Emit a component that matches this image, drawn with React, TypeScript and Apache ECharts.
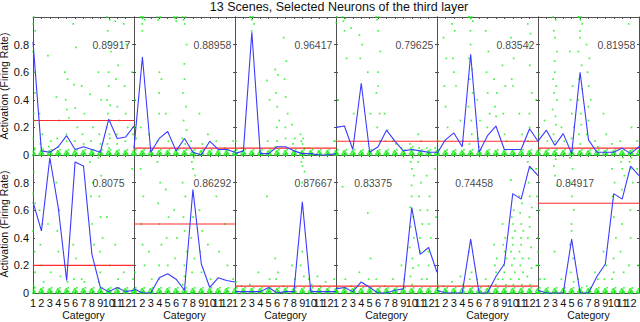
import React, { useEffect, useRef } from 'react';
import * as echarts from 'echarts';

const TITLE = '13 Scenes, Selected Neurons of the third layer';
const Y_NAME = 'Activation (Firing Rate)';
const X_NAME = 'Category';
const CATEGORIES = [1, 2, 3, 4, 5, 6, 7, 8, 9, 10, 11, 12, 13];

// score printed in each panel (top row left->right, then bottom row)
const SCORES = ['0.89917', '0.88958', '0.96417', '0.79625', '0.83542', '0.81958',
  '0.8075', '0.86292', '0.87667', '0.83375', '0.74458', '0.84917'];
// where the score text starts (category units) and its height (activation units)
const SCORE_X = [8, 8, 8, 8, 8, 8, 8, 8, 8, 3.1, 3.1, 3.1];
const SCORE_Y = 0.8;

// mean activation per category (blue line)
const T1_LINE = [0.82, 0.03, 0.02, 0.06, 0.14, 0.04, 0.06, 0.04, 0.02, 0.26, 0.12, 0.13, 0.21];
const T2_LINE = [0.05, 0.71, 0.02, 0.12, 0.17, 0.03, 0.12, 0.02, 0.0, 0.10, 0.04, 0.04, 0.02];
const T3_LINE = [0.01, 0.03, 0.89, 0.01, 0.01, 0.06, 0.06, 0.03, 0.01, 0.01, 0.0, 0.0, 0.01];
const T4_LINE = [0.20, 0.21, 0.04, 0.52, 0.02, 0.06, 0.18, 0.10, 0.03, 0.04, 0.03, 0.02, 0.02];
const T5_LINE = [0.01, 0.11, 0.16, 0.06, 0.73, 0.02, 0.14, 0.21, 0.04, 0.04, 0.04, 0.19, 0.10];
const T6_LINE = [0.10, 0.18, 0.07, 0.155, 0.01, 0.60, 0.11, 0.02, 0.02, 0.02, 0.05, 0.01, 0.06];
const B1_LINE = [0.66, 0.45, 0.98, 0.62, 0.09, 0.95, 0.92, 0.28, 0.04, 0.01, 0.04, 0.01, 0.02];
const B2_LINE = [0.03, 0.0, 0.0, 0.11, 0.14, 0.10, 0.02, 0.75, 0.21, 0.04, 0.11, 0.09, 0.08];
const B3_LINE = [0.01, 0.01, 0.01, 0.01, 0.04, 0.0, 0.01, 0.01, 0.66, 0.01, 0.01, 0.01, 0.01];
const B4_LINE = [0.03, 0.04, 0.01, 0.08, 0.04, 0.0, 0.0, 0.02, 0.03, 0.62, 0.28, 0.33, 0.15];
const B5_LINE = [0.02, 0.0, 0.0, 0.0, 0.39, 0.0, 0.0, 0.12, 0.21, 0.72, 0.68, 0.92, 0.85];
const B6_LINE = [0.02, 0.0, 0.0, 0.0, 0.39, 0.0, 0.0, 0.12, 0.21, 0.72, 0.68, 0.92, 0.85];

// threshold (red line)
const THRESHOLDS = [0.25, 0.05, 0.05, 0.1, 0.1, 0.05, 0.2, 0.5, 0.05, 0.05, 0.05, 0.65];

// many single trials sit at (almost) zero in every category
const ZERO_TRIALS = [0, 0, 0, 0.004, 0.008, 0.008, 0.012, 0.016, 0.02, 0.025, 0.03, 0.038];

// single-trial activations per category (green dots), above the zero pile
const T1_DOTS = [
  [1, 1, 0.98, 0.95, 0.9, 0.85, 0.75, 0.68, 0.6, 0.55, 0.45, 0.38, 0.3, 0.25, 0.18, 0.12, 0.08, 0.05],
  [0.3, 0.15, 0.08, 0.05], [0.72, 0.1, 0.06], [0.42, 0.25, 0.12, 0.06],
  [0.6, 0.55, 0.4, 0.33, 0.27, 0.15, 0.1], [0.95, 0.78, 0.51, 0.34, 0.2, 0.1],
  [0.5, 0.3, 0.15, 0.08], [0.44, 0.2, 0.1], [0.6, 0.4, 0.15, 0.08],
  [1, 0.98, 0.9, 0.82, 0.75, 0.6, 0.5, 0.4, 0.36, 0.3, 0.25, 0.2, 0.15, 0.12, 0.08, 0.05],
  [0.97, 0.65, 0.55, 0.35, 0.25, 0.15, 0.08], [0.95, 0.8, 0.5, 0.3, 0.2, 0.1], [0.6, 0.3, 0.15, 0.1],
];
const T2_DOTS = [
  [0.7, 0.4, 0.3, 0.2, 0.12, 0.08, 0.05], [1, 1, 1, 0.99, 0.98, 0.95, 0.9, 0.2], [0.15],
  [1, 1, 0.98, 0.6, 0.55, 0.45, 0.3, 0.1], [0.3, 0.1], [1, 1, 0.99, 0.97],
  [1, 1, 0.98, 0.95, 0.8, 0.66, 0.55, 0.45, 0.35, 0.25, 0.18, 0.12, 0.08],
  [0.1], [0.3, 0.08], [0.15], [0.1], [0.05], [0.1],
];
const T3_DOTS = [
  [0.3, 0.1], [0.05], [1, 1, 1, 0.98, 0.95, 0.9], [], [0.54, 0.4, 0.1],
  [0.62, 0.58, 0.45, 0.35, 0.25, 0.2, 0.1, 0.06], [0.85, 0.68, 0.55, 0.42, 0.3, 0.2, 0.12],
  [0.22, 0.12, 0.08], [0.15, 0.12, 0.1, 0.08, 0.05], [0.05], [], [], [0.1, 0.05],
];
const T4_DOTS = [
  [1, 1, 0.98, 0.96, 0.4, 0.2, 0.1], [1, 0.99, 0.97, 0.9, 0.7], [0.92, 0.3], [0.87, 0.8, 0.7],
  [0.6, 0.3], [1, 1, 0.98, 0.9, 0.75, 0.6, 0.5, 0.45, 0.3, 0.2, 0.1], [0.3, 0.18, 0.1],
  [0.1, 0.08], [0.05], [0.08, 0.06, 0.05, 0.04], [0.15, 0.1, 0.05], [0.05], [0.05],
];
const T5_DOTS = [
  [0.2, 0.1], [0.85, 0.7, 0.5, 0.35, 0.2, 0.1], [0.95, 0.9, 0.7, 0.6, 0.5], [0.25, 0.1],
  [1, 1, 1, 0.99, 0.97, 0.9, 0.8, 0.7, 0.62, 0.55, 0.45, 0.35, 0.25, 0.15, 0.08],
  [0.4, 0.25, 0.12, 0.06], [0.9, 0.75, 0.6, 0.45, 0.3, 0.2], [0.55, 0.45, 0.35, 0.28],
  [0.65, 0.5, 0.3, 0.15, 0.1], [0.85, 0.7, 0.55, 0.5], [0.3, 0.15],
  [0.95, 0.88, 0.8, 0.65, 0.45, 0.3, 0.2, 0.1], [0.4, 0.1],
];
const T6_DOTS = [
  [0.3, 0.15, 0.08], [0.25, 0.1],
  [1, 0.98, 0.9, 0.85, 0.75, 0.68, 0.6, 0.55, 0.5, 0.45, 0.4, 0.33, 0.28, 0.22, 0.15, 0.1],
  [0.2, 0.1], [0.75, 0.5, 0.4, 0.3, 0.2, 0.12],
  [1, 1, 1, 0.98, 0.95, 0.9, 0.85, 0.75, 0.65, 0.55, 0.48, 0.4, 0.3, 0.22, 0.15, 0.08],
  [0.8, 0.7, 0.6, 0.5, 0.4, 0.35, 0.25, 0.15], [0.1, 0.06], [0.3, 0.15], [0.08], [0.1],
  [0.95, 0.2], [0.1],
];
const B1_DOTS = [
  [0.95, 0.88, 0.8, 0.72, 0.65, 0.55, 0.45, 0.38, 0.3, 0.22, 0.15, 0.08, 0.05],
  [0.6, 0.5, 0.35, 0.2, 0.08], [0.5, 0.15], [0.8, 0.6, 0.45, 0.3, 0.12], [0.2, 0.08],
  [0.35, 0.25, 0.1], [0.1, 0.08], [0.95, 0.8, 0.7, 0.5, 0.35],
  [0.98, 0.85, 0.7, 0.55, 0.4, 0.3, 0.15, 0.08], [0.55, 0.2], [0.35, 0.1], [0.15], [0.9, 0.3, 0.1],
];
const B2_DOTS = [
  [0.4, 0.15, 0.08], [0.9, 0.7, 0.5, 0.35, 0.2], [0.3, 0.1], [0.95, 0.8, 0.65, 0.5, 0.35, 0.2, 0.1],
  [0.75, 0.55, 0.4, 0.2], [0.6, 0.4, 0.25], [0.8, 0.7, 0.55, 0.45, 0.3, 0.2, 0.12, 0.06],
  [1, 0.98, 0.95, 0.9, 0.85, 0.7, 0.55, 0.4, 0.25, 0.15], [0.6, 0.45, 0.3, 0.15],
  [0.35, 0.1], [0.7, 0.3], [0.5, 0.2], [0.1],
];
const B3_DOTS = [
  [0.12, 0.08], [0.05], [0.06], [0.15], [0.7, 0.1], [0.25, 0.15, 0.1], [0.05], [0.2, 0.1],
  [1, 0.98, 0.95, 0.92, 0.88, 0.8, 0.3, 0.2, 0.12], [0.1, 0.06], [0.12, 0.05], [0.08], [0.1],
];
const B4_DOTS = [
  [0.1], [0.77, 0.1], [0.05], [0.15], [0.58, 0.25, 0.1], [0.1], [0.05], [0.1], [0.2, 0.1],
  [1, 0.98, 0.95, 0.9, 0.85, 0.78, 0.7, 0.62, 0.55, 0.48, 0.4, 0.33, 0.25, 0.18, 0.12, 0.06],
  [0.95, 0.8, 0.7, 0.6, 0.5, 0.4, 0.3, 0.2, 0.1], [0.85, 0.7, 0.6, 0.5, 0.4, 0.3, 0.2, 0.1],
  [0.9, 0.75, 0.55, 0.35, 0.2],
];
const B5_DOTS = [
  [0.1, 0.06], [0.05], [0.08], [0.12, 0.06], [0.3, 0.15, 0.1], [0.1], [0.1, 0.05],
  [0.35, 0.25, 0.2, 0.15, 0.1, 0.06], [0.5, 0.4, 0.35, 0.3, 0.25, 0.2, 0.15, 0.1, 0.06],
  [0.82, 0.6, 0.55, 0.5, 0.45, 0.4, 0.35, 0.3, 0.25, 0.2, 0.15, 0.1, 0.06],
  [0.7, 0.65, 0.58, 0.5, 0.45, 0.4, 0.35, 0.3, 0.25, 0.2, 0.15, 0.1, 0.06],
  [0.95, 0.9, 0.8, 0.7, 0.62, 0.55, 0.48, 0.4, 0.33, 0.25, 0.18, 0.12, 0.06],
  [0.9, 0.8, 0.7, 0.6, 0.5, 0.4, 0.3, 0.2, 0.1],
];
const B6_DOTS = [
  [0.9, 0.6, 0.4, 0.2, 0.1], [0.1], [1, 0.97, 0.92, 0.85, 0.78, 0.3], [0.1],
  [0.98, 0.9, 0.8, 0.7, 0.6, 0.5, 0.45, 0.35, 0.25, 0.15, 0.08], [0.1], [0.05], [0.15, 0.1],
  [0.3, 0.2, 0.1], [0.9, 0.8, 0.7, 0.55, 0.4, 0.25, 0.15, 0.1],
  [1, 0.98, 0.95, 0.9, 0.85, 0.75, 0.5, 0.3, 0.15], [1, 0.98, 0.95, 0.9, 0.8, 0.6, 0.4, 0.2],
  [0.9, 0.5, 0.2],
];

const LINES = [T1_LINE, T2_LINE, T3_LINE, T4_LINE, T5_LINE, T6_LINE,
  B1_LINE, B2_LINE, B3_LINE, B4_LINE, B5_LINE, B6_LINE];
const DOTS = [T1_DOTS, T2_DOTS, T3_DOTS, T4_DOTS, T5_DOTS, T6_DOTS,
  B1_DOTS, B2_DOTS, B3_DOTS, B4_DOTS, B5_DOTS, B6_DOTS];

// layout / style (not data)
const COL_LEFT = [33, 134, 235, 336, 437, 538];
const COL_WIDTH = 101;
const ROW_TOP = [17, 155];
const ROW_HEIGHT = 138;
const JITTER = [0, -0.2, 0.18, -0.1, 0.24, -0.26, 0.08, 0.14, -0.15, 0.04, -0.05, 0.21, -0.22, 0.11, -0.12, 0.02, 0.26, -0.02];
const FONT = 'Liberation Sans, Arial, Helvetica, sans-serif';
const AXIS_COLOR = '#505050';

function buildOption() {
  const grid: any[] = [];
  const xAxis: any[] = [];
  const yAxis: any[] = [];
  const series: any[] = [];
  const lastCat = CATEGORIES[CATEGORIES.length - 1];

  for (let p = 0; p < 12; p++) {
    const row = Math.floor(p / 6);
    const col = p % 6;
    grid.push({
      left: COL_LEFT[col], top: ROW_TOP[row], width: COL_WIDTH, height: ROW_HEIGHT,
      show: false, containLabel: false, outerBoundsMode: 'none',
    });
    const baseX = {
      type: 'value', gridIndex: p, min: CATEGORIES[0], max: lastCat, interval: 1,
      splitLine: { show: false },
      axisLine: { show: true, onZero: false, lineStyle: { color: AXIS_COLOR, width: 1 } },
      axisTick: { show: true, inside: true, length: 2, lineStyle: { color: AXIS_COLOR } },
    };
    xAxis.push({
      ...baseX, position: 'bottom',
      axisLabel: {
        show: row === 1, fontSize: 11, color: '#111', fontFamily: FONT, margin: 4,
        showMinLabel: true, showMaxLabel: false, hideOverlap: false,
        formatter: (v: number) => (Math.round(v) >= lastCat ? '' : String(Math.round(v))),
      },
      name: row === 1 ? X_NAME : '', nameLocation: 'middle', nameGap: 16.5,
      nameTextStyle: { fontSize: 10.5, lineHeight: 11, color: '#111', fontFamily: FONT },
    });
    xAxis.push({ ...baseX, position: 'top', axisLabel: { show: false } });
    const baseY = {
      type: 'value', gridIndex: p, min: 0, max: 1, interval: 0.2,
      splitLine: { show: false },
      axisLine: { show: true, onZero: false, lineStyle: { color: AXIS_COLOR, width: 1 } },
      axisTick: { show: true, inside: true, length: 2, lineStyle: { color: AXIS_COLOR } },
    };
    yAxis.push({
      ...baseY, position: 'left',
      axisLabel: {
        show: col === 0, fontSize: 11, color: '#111', fontFamily: FONT, margin: 4,
        showMinLabel: true, showMaxLabel: true,
        formatter: (v: number) => (v > 0.99 ? '' : v === 0 ? '0' : String(Math.round(v * 10) / 10)),
      },
      name: col === 0 ? Y_NAME : '', nameLocation: 'middle', nameGap: 20, nameRotate: 90,
      nameTextStyle: { fontSize: 10.5, lineHeight: 10.5, color: '#111', fontFamily: FONT },
    });
    yAxis.push({ ...baseY, position: 'right', axisLabel: { show: false } });

    const dots: number[][] = [];
    DOTS[p].forEach((vals, c) => {
      ZERO_TRIALS.concat(vals).forEach((v, j) => {
        dots.push([CATEGORIES[c] + JITTER[j % JITTER.length], v]);
      });
    });
    series.push({
      type: 'scatter', xAxisIndex: 2 * p, yAxisIndex: 2 * p, data: dots,
      symbol: 'rect', symbolSize: 1.7, itemStyle: { color: '#14f014' }, clip: true,
      silent: true, z: 2,
    });
    series.push({
      type: 'line', xAxisIndex: 2 * p, yAxisIndex: 2 * p,
      data: [[CATEGORIES[0], THRESHOLDS[p]], [lastCat, THRESHOLDS[p]]],
      symbol: 'none', lineStyle: { color: '#ff2a2a', width: 1.1 }, silent: true, z: 3,
    });
    series.push({
      type: 'line', xAxisIndex: 2 * p, yAxisIndex: 2 * p,
      data: LINES[p].map((v, i) => [CATEGORIES[i], v]),
      symbol: 'none', lineStyle: { color: '#3b3bff', width: 1.1 }, silent: true, z: 4,
    });
    series.push({
      type: 'scatter', xAxisIndex: 2 * p, yAxisIndex: 2 * p,
      data: [[SCORE_X[p], SCORE_Y]], symbolSize: 1, itemStyle: { color: 'transparent' },
      silent: true, z: 5,
      label: {
        show: true, position: 'right', distance: 0, formatter: SCORES[p],
        fontSize: 10.5, color: '#111', fontFamily: FONT,
      },
    });
  }

  return {
    animation: false,
    backgroundColor: '#ffffff',
    title: {
      text: TITLE, left: 339, top: 0, padding: [0, 0, 0, 0], textAlign: 'center',
      textStyle: { fontSize: 12.5, fontWeight: 'normal', color: '#111', fontFamily: FONT },
    },
    grid, xAxis, yAxis, series,
  };
}

export default function App() {
  const ref = useRef<HTMLDivElement>(null);
  useEffect(() => {
    if (!ref.current) return;
    const chart = echarts.init(ref.current, undefined, { renderer: 'svg' });
    chart.setOption(buildOption() as any);
    return () => chart.dispose();
  }, []);
  return (
    <div
      ref={ref}
      style={{ position: 'absolute', left: 0, top: 0, width: 640, height: 322, background: '#fff' }}
    />
  );
}
